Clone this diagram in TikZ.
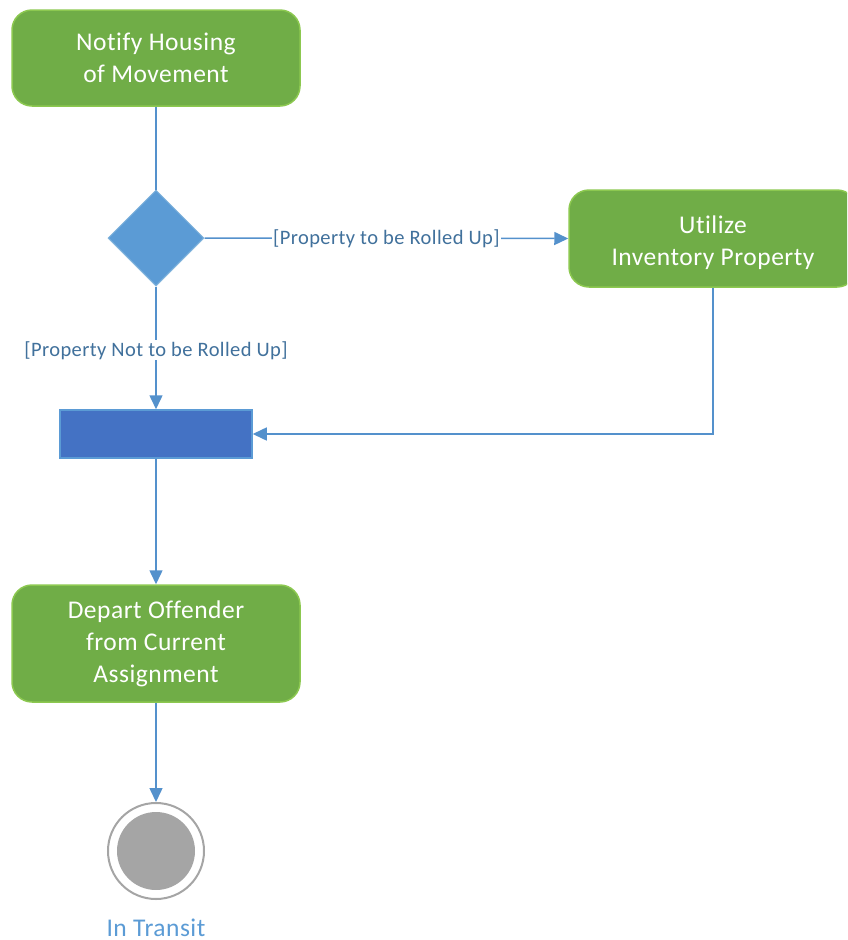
\documentclass[tikz,border=0pt]{standalone}
\usepackage{fontspec}
\setmainfont{Carlito}[Ligatures={NoCommon},LetterSpace=2]
\usetikzlibrary{shapes.geometric,arrows.meta}
\definecolor{actfill}{RGB}{112,173,71}
\definecolor{actdraw}{RGB}{140,200,80}
\definecolor{decfill}{RGB}{91,155,213}
\definecolor{decdraw}{RGB}{130,180,220}
\definecolor{barfill}{RGB}{68,114,196}
\definecolor{edgecol}{RGB}{84,145,204}
\definecolor{labcol}{RGB}{65,113,156}
\definecolor{endgray}{RGB}{165,165,165}
\tikzset{
  x=1pt,y=-1pt,
  activity/.style={draw=actdraw,line width=1.5pt,fill=actfill,rounded corners=20pt,
    minimum width=288pt,align=center,text=white,font=\fontsize{25.5}{32}\selectfont,inner sep=0pt},
  decision/.style={diamond,draw=decdraw,line width=1pt,fill=decfill,minimum width=96pt,minimum height=96pt,inner sep=0pt,aspect=1},
  syncbar/.style={draw=decfill,line width=1.5pt,fill=barfill,minimum width=192pt,minimum height=48pt,inner sep=0pt},
  flow/.style={draw=edgecol,line width=1.5pt,-{Triangle[length=14pt,width=13pt]}},
  guard/.style={fill=white,text=labcol,font=\fontsize{20.5}{22}\selectfont,inner sep=1pt},
}
\begin{document}
\begin{tikzpicture}
\clip (0,0) rectangle (847,940);
\useasboundingbox (0,0) rectangle (847,940);
\node[activity,minimum height=96pt] (notify) at (156,58) {Notify Housing\\of Movement};
\node[decision] (dec) at (156,238) {};
\node[activity,minimum height=97pt] (util) at (713,238.5) {\rule{0pt}{0pt}\\[-5pt]Utilize\\Inventory Property};
\node[syncbar] (bar) at (156,434) {};
\node[activity,minimum height=117pt] (depart) at (156,643.5) {Depart Offender\\from Current\\Assignment};
\node[circle,draw=endgray,line width=2pt,minimum size=96pt,inner sep=0pt] (final) at (156,851) {};
\node[circle,fill=endgray,minimum size=78pt,inner sep=0pt] (finalin) at (156,851) {};
\node[text=decfill,font=\fontsize{25.5}{28}\selectfont,inner sep=0pt,text depth=0pt,anchor=base] (lab) at (156,936) {In Transit};
\draw[draw=edgecol,line width=1.5pt] (notify.south) -- (dec.north);
\draw[flow] (dec.east) -- node[guard] {[Property to be Rolled Up]} (util.west);
\draw[flow] (dec.south) -- node[guard,pos=0.52] {[Property Not to be Rolled Up]} (bar.north);
\draw[flow] (util.south) |- (bar.east);
\draw[flow] (bar.south) -- (depart.north);
\draw[flow] (depart.south) -- (final.north);
\end{tikzpicture}
\end{document}
